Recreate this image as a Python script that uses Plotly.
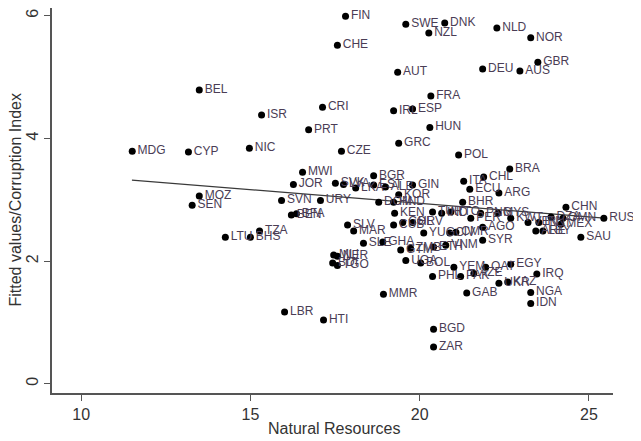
import plotly.graph_objects as go

countries = ["FIN","SWE","DNK","NZL","NLD","NOR","CHE","GBR","AUS","DEU","AUT","FRA","CRI","IRL","ESP",
             "PRT","HUN","BEL","ISR","GRC","CZE","MDG","CYP","NIC","POL","MWI","JOR","BGR","BRA","CHL",
             "ITA","ECU","ARG","GIN","MOZ","SEN","SVN","URY","BEN","BFA","LTU","BHS","TZA","LBR","HTI",
             "MMR","BGD","ZAR","GAB","NGA","IDN","IRQ","KAZ","UKR","EGY","QAT","YEM","PAK","AZE","PHL",
             "BOL","UGA","MLI","NER","BDI","TGO","SVK","LVA","EST","ALB","KOR","DOM","HND","KEN","TUR",
             "IND","SLV","MAR","CUB","COL","HRV","YUG","CIV","CMR","BHR","AGO","TTO","PER","PNG","MYS",
             "KWT","VEN","IRN","DZA","OMN","MEX","ARE","LBY","CHN","RUS","SAU","SYR","ETH","VNM","SLE",
             "GHA","GTM","ZMB","LKA"]
natural_resources = [17.81,19.59,20.74,20.27,22.28,23.28,17.57,23.49,22.96,21.86,19.35,20.33,17.13,19.23,19.79,
                     16.72,20.30,13.49,15.33,19.38,17.69,11.51,13.17,14.97,21.15,16.54,16.27,18.64,22.66,21.89,
                     21.30,21.48,22.34,19.79,13.49,13.28,15.92,17.07,16.21,16.36,14.26,15.00,15.27,16.01,17.16,
                     18.93,20.41,20.41,21.39,23.28,23.28,23.46,22.60,22.34,22.69,21.95,21.01,21.21,21.60,20.38,
                     20.03,19.59,17.46,17.57,17.43,17.57,17.51,17.75,18.64,18.99,19.38,18.79,19.23,19.26,20.38,
                     20.65,17.87,18.05,19.23,19.50,19.79,20.12,20.89,21.07,21.27,21.86,20.92,21.51,21.80,22.31,
                     22.69,23.20,23.52,23.88,24.23,24.17,23.43,23.64,24.32,25.44,24.76,21.86,20.41,20.77,18.34,
                     18.91,19.44,19.73,18.11]
corruption_index = [5.99,5.86,5.88,5.72,5.80,5.64,5.52,5.24,5.10,5.13,5.08,4.69,4.51,4.45,4.48,
                    4.14,4.18,4.79,4.38,3.92,3.79,3.79,3.78,3.84,3.73,3.45,3.25,3.39,3.50,3.37,
                    3.30,3.17,3.11,3.24,3.06,2.91,2.99,2.99,2.75,2.77,2.39,2.39,2.49,1.17,1.04,
                    1.46,0.89,0.60,1.48,1.49,1.31,1.79,1.66,1.64,1.95,1.90,1.90,1.75,1.80,1.75,
                    1.97,2.01,2.10,2.08,1.97,1.93,3.27,3.25,3.24,3.21,3.08,2.96,2.96,2.78,2.80,
                    2.78,2.59,2.49,2.59,2.63,2.63,2.46,2.46,2.47,2.96,2.55,2.80,2.70,2.78,2.78,
                    2.70,2.63,2.63,2.72,2.70,2.60,2.49,2.49,2.88,2.70,2.39,2.34,2.23,2.26,2.29,
                    2.31,2.18,2.21,3.19]

fit_x = [11.5, 25.45]
fit_y = [3.32, 2.70]

x_ticks = [10, 15, 20, 25]
y_ticks = [0, 2, 4, 6]

FONT = "Liberation Sans, Arial, sans-serif"

fig = go.Figure()
fig.add_trace(go.Scatter(
    x=fit_x, y=fit_y, mode="lines",
    line=dict(color="#3a3a3a", width=1.2),
    hoverinfo="skip", showlegend=False))
fig.add_trace(go.Scatter(
    x=natural_resources, y=corruption_index, text=countries,
    mode="markers+text", textposition="middle right",
    marker=dict(color="black", size=7),
    textfont=dict(family=FONT, size=12, color="#4a3d55"),
    cliponaxis=False, showlegend=False))

fig.update_layout(
    width=641, height=441,
    paper_bgcolor="white", plot_bgcolor="white",
    margin=dict(l=44, r=36, t=0, b=56, autoexpand=False),
    font=dict(family=FONT, color="#333333"),
    showlegend=False,
    annotations=[
        dict(text="Natural Resources", xref="paper", yref="paper", x=0.504, y=0,
             xanchor="center", yanchor="middle", yshift=-35, showarrow=False,
             font=dict(family=FONT, size=16, color="#333333")),
        dict(text="Fitted values/Corruption Index", xref="paper", yref="paper", x=0, y=0.5,
             xanchor="center", yanchor="middle", xshift=-37, yshift=0, textangle=-90,
             showarrow=False, font=dict(family=FONT, size=16, color="#333333")),
    ],
)
fig.update_xaxes(
    range=[9.14, 25.71], tickvals=x_ticks, ticktext=[str(v) for v in x_ticks],
    showgrid=False, zeroline=False, showline=True, linecolor="#555555", linewidth=1.5,
    ticks="outside", ticklen=6, tickcolor="#555555", automargin=False,
    tickfont=dict(size=16, color="#333333"),
)
fig.update_yaxes(
    range=[-0.15, 6.126], tickvals=y_ticks, ticktext=[str(v) for v in y_ticks],
    showgrid=False, zeroline=False, showline=True, linecolor="#555555", linewidth=1.5,
    ticks="outside", ticklen=6, tickcolor="#555555", tickangle=-90, automargin=False,
    tickfont=dict(size=16, color="#333333"),
)

fig.write_html("out.html")
